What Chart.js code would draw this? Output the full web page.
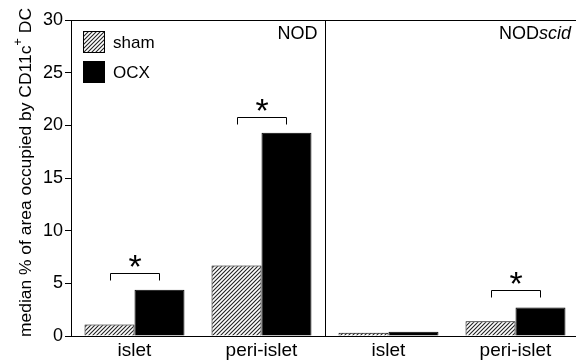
<!DOCTYPE html>
<html>
<head>
<meta charset="utf-8">
<script src="https://cdn.jsdelivr.net/npm/chart.js@4.4.0/dist/chart.umd.min.js"></script>
<style>
  html, body { margin: 0; padding: 0; background: #fff; overflow: hidden; }
  #wrap { width: 576px; height: 362px; overflow: hidden; }
</style>
</head>
<body>
<div id="wrap"><canvas id="grafica" width="579" height="362"></canvas></div>
<script>
// datos
var categorias = ['islet', 'peri-islet', 'islet', 'peri-islet'];
var valoresSham = [1.1, 6.7, 0.3, 1.4];
var valoresOcx = [4.4, 19.3, 0.4, 2.7];
var etiquetasSeries = ['sham', 'OCX'];
var ejeYMin = 0;
var ejeYMax = 30;
var ejeYPaso = 5;
var paneles = [['NOD', ''], ['NOD', 'scid']];
var corchetesCategoria = [0, 1, 3];
var corchetesNivel = [6.0, 20.8, 4.4];
var tituloY = ['median % of area occupied by CD11c', '+', ' DC'];

var fuente = '"Liberation Sans", Arial, sans-serif';

// trama rayada para sham
function crearRayado() {
    var c = document.createElement('canvas');
    c.width = 4;
    c.height = 4;
    var g = c.getContext('2d');
    g.fillStyle = '#fff';
    g.fillRect(0, 0, 4, 4);
    g.strokeStyle = '#222';
    g.lineWidth = 1.1;
    g.beginPath();
    g.moveTo(-1, 5); g.lineTo(5, -1);
    g.moveTo(-1, 1); g.lineTo(1, -1);
    g.moveTo(3, 5); g.lineTo(5, 3);
    g.stroke();
    return g.createPattern(c, 'repeat');
}
var rayado = crearRayado();

var extras = {
    id: 'extras',
    afterDraw: function (chart) {
        var ctx = chart.ctx;
        var area = chart.chartArea;
        var x = chart.scales.x;
        var y = chart.scales.y;
        ctx.save();
        ctx.strokeStyle = '#000';
        ctx.lineWidth = 1;

        // marco superior y separador de paneles
        var xDiv = Math.round((x.getPixelForValue(1) + x.getPixelForValue(2)) / 2) + 0.5;
        ctx.beginPath();
        ctx.moveTo(area.left, Math.round(area.top) + 0.5);
        ctx.lineTo(area.right, Math.round(area.top) + 0.5);
        ctx.moveTo(xDiv, area.top);
        ctx.lineTo(xDiv, area.bottom);
        ctx.stroke();

        // nombres de paneles
        ctx.fillStyle = '#000';
        ctx.textBaseline = 'middle';
        var bordes = [xDiv, area.right];
        for (var p = 0; p < paneles.length; p++) {
            var derecha = bordes[p] - 8;
            ctx.font = 'italic 18px ' + fuente;
            var wIt = paneles[p][1] ? ctx.measureText(paneles[p][1]).width : 0;
            ctx.textAlign = 'right';
            if (paneles[p][1]) ctx.fillText(paneles[p][1], derecha, area.top + 14);
            ctx.font = '18px ' + fuente;
            ctx.fillText(paneles[p][0], derecha - wIt, area.top + 14);
        }

        // leyenda
        var colores = [rayado, '#000'];
        for (var i = 0; i < etiquetasSeries.length; i++) {
            var by = area.top + 11 + i * 30;
            ctx.fillStyle = colores[i];
            ctx.fillRect(area.left + 12, by, 22, 22);
            ctx.strokeRect(area.left + 12.5, by + 0.5, 21, 21);
            ctx.fillStyle = '#000';
            ctx.font = '17px ' + fuente;
            ctx.textAlign = 'left';
            ctx.fillText(etiquetasSeries[i], area.left + 42, by + 12);
        }

        // corchetes de significancia
        var m0 = chart.getDatasetMeta(0);
        var m1 = chart.getDatasetMeta(1);
        for (var k = 0; k < corchetesCategoria.length; k++) {
            var c = corchetesCategoria[k];
            var x0 = Math.round(m0.data[c].x) + 0.5;
            var x1 = Math.round(m1.data[c].x) + 0.5;
            var yc = Math.round(y.getPixelForValue(corchetesNivel[k])) + 0.5;
            ctx.beginPath();
            ctx.moveTo(x0, yc + 7);
            ctx.lineTo(x0, yc);
            ctx.lineTo(x1, yc);
            ctx.lineTo(x1, yc + 7);
            ctx.stroke();
            ctx.font = '34px ' + fuente;
            ctx.textAlign = 'center';
            ctx.textBaseline = 'alphabetic';
            ctx.fillText('*', (x0 + x1) / 2, yc - 15 + 0.58 * 34);
        }

        // titulo del eje y con superindice
        ctx.translate(31, 337);
        ctx.rotate(-Math.PI / 2);
        ctx.textAlign = 'left';
        ctx.textBaseline = 'alphabetic';
        ctx.font = '16px ' + fuente;
        var w0 = ctx.measureText(tituloY[0]).width;
        var w2 = ctx.measureText(tituloY[2]).width;
        ctx.font = '12px ' + fuente;
        var w1 = ctx.measureText(tituloY[1]).width;
        var escala = 329 / (w0 + w1 + w2);
        ctx.scale(escala, 1);
        ctx.font = '16px ' + fuente;
        ctx.fillText(tituloY[0], 0, 0);
        ctx.fillText(tituloY[2], w0 + w1, 0);
        ctx.font = '12px ' + fuente;
        ctx.fillText(tituloY[1], w0, -9);
        ctx.restore();
    }
};

var ctx = document.getElementById('grafica');
var grafica = new Chart(ctx, {
    type: 'bar',
    data: {
        labels: categorias,
        datasets: [{
            label: etiquetasSeries[0],
            data: valoresSham,
            backgroundColor: rayado,
            borderColor: '#000',
            borderWidth: 1,
            borderSkipped: 'bottom'
        }, {
            label: etiquetasSeries[1],
            data: valoresOcx,
            backgroundColor: '#000',
            borderColor: '#000',
            borderWidth: 1,
            borderSkipped: 'bottom'
        }]
    },
    options: {
        responsive: false,
        animation: false,
        layout: { padding: { top: 20, left: 0, right: 0, bottom: 0 } },
        datasets: { bar: { categoryPercentage: 0.787, barPercentage: 1 } },
        plugins: { legend: { display: false }, tooltip: { enabled: false } },
        scales: {
            x: {
                grid: { display: false, drawTicks: false },
                border: { color: '#000', width: 1 },
                ticks: { color: '#000', font: { family: fuente, size: 19 }, padding: 3, maxRotation: 0 },
                afterFit: function (s) { s.height = 26; }
            },
            y: {
                min: ejeYMin,
                max: ejeYMax,
                ticks: { stepSize: ejeYPaso, color: '#000', font: { family: fuente, size: 18 }, padding: 2 },
                grid: { drawOnChartArea: false, drawTicks: true, tickLength: 6, color: '#000' },
                border: { color: '#000', width: 1 },
                afterFit: function (s) { s.width = 71; }
            }
        }
    },
    plugins: [extras]
});
</script>
</body>
</html>
